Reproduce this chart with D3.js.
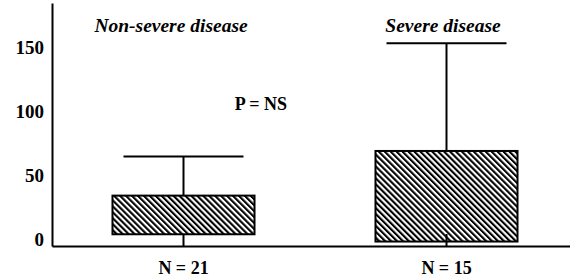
<!DOCTYPE html>
<html>
<head>
<meta charset="utf-8">
<script src="https://cdn.jsdelivr.net/npm/d3@7"></script>
<style>
  body { margin: 0; background: #fff; }
</style>
</head>
<body>
<script>
//box plot, two groups

var w = 570;
var h = 278;
var serif = "'Liberation Serif', 'Times New Roman', serif";

// data
var categories = ["Non-severe disease", "Severe disease"];
var nLabels = ["N = 21", "N = 15"];
var boxLow = [3.7, -2];
var boxHigh = [34, 69];
var whiskerHigh = [64.6, 153.4];
var yTicks = [0, 50, 100, 150];
var pText = "P = NS";

var svg = d3.select("body")
    .append("svg")
    .attr("width", w)
    .attr("height", h);

// hatch fill
svg.append("defs")
    .append("pattern")
    .attr("id", "hatch")
    .attr("patternUnits", "userSpaceOnUse")
    .attr("width", 4.2)
    .attr("height", 4.2)
    .attr("patternTransform", "rotate(-45)")
    .append("rect")
    .attr("width", 2.1)
    .attr("height", 4.2)
    .attr("fill", "#000");

var x = d3.scaleBand()
    .domain(categories)
    .range([52, 578])
    .paddingInner(0.46)
    .paddingOuter(0.23);

var y = d3.scaleLinear()
    .domain([-5.5, 185])
    .range([246, 3]);

var cx = function(d, i) { return x(categories[i]) + x.bandwidth() / 2; };
var capW = x.bandwidth() * 0.845;

// upper whiskers
svg.selectAll(".whisker")
    .data(categories)
    .enter()
    .append("line")
    .attr("class", "whisker")
    .attr("x1", cx)
    .attr("x2", cx)
    .attr("y1", function(d, i) { return y(boxHigh[i]); })
    .attr("y2", function(d, i) { return y(whiskerHigh[i]); })
    .attr("stroke", "#000")
    .attr("stroke-width", 2);

svg.selectAll(".cap")
    .data(categories)
    .enter()
    .append("line")
    .attr("class", "cap")
    .attr("x1", function(d, i) { return cx(d, i) - capW / 2; })
    .attr("x2", function(d, i) { return cx(d, i) + capW / 2; })
    .attr("y1", function(d, i) { return y(whiskerHigh[i]); })
    .attr("y2", function(d, i) { return y(whiskerHigh[i]); })
    .attr("stroke", "#000")
    .attr("stroke-width", 2);

// boxes
svg.selectAll(".box")
    .data(categories)
    .enter()
    .append("rect")
    .attr("class", "box")
    .attr("x", function(d) { return x(d); })
    .attr("width", x.bandwidth())
    .attr("y", function(d, i) { return y(boxHigh[i]); })
    .attr("height", function(d, i) { return y(boxLow[i]) - y(boxHigh[i]); })
    .attr("fill", "url(#hatch)")
    .attr("stroke", "#000")
    .attr("stroke-width", 2);

// axes
var yAxis = svg.append("g")
    .attr("transform", "translate(52,0)")
    .call(d3.axisLeft(y).tickValues(yTicks).tickSize(0).tickSizeOuter(0).tickPadding(8));

yAxis.attr("font-family", serif).attr("font-size", 19).attr("font-weight", "bold");
yAxis.select(".domain").attr("stroke-width", 2);

var xAxis = svg.append("g")
    .attr("transform", "translate(0,246)")
    .call(d3.axisBottom(x)
        .tickSize(-12)
        .tickSizeOuter(0)
        .tickPadding(15)
        .tickFormat(function(d, i) { return nLabels[i]; }));

xAxis.attr("font-family", serif).attr("font-size", 18).attr("font-weight", "bold");
xAxis.selectAll("line").attr("stroke-width", 2);
xAxis.select(".domain").attr("stroke-width", 2);

// group titles
var titleX = [171, 443];
svg.selectAll(".title")
    .data(categories)
    .enter()
    .append("text")
    .attr("class", "title")
    .attr("x", function(d, i) { return titleX[i]; })
    .attr("y", 32)
    .attr("text-anchor", "middle")
    .attr("font-family", serif)
    .attr("font-size", 19.5)
    .attr("font-weight", "bold")
    .attr("font-style", "italic")
    .text(function(d) { return d; });

svg.append("text")
    .attr("x", 261)
    .attr("y", 110)
    .attr("text-anchor", "middle")
    .attr("font-family", serif)
    .attr("font-size", 18)
    .attr("font-weight", "bold")
    .text(pText);
</script>
</body>
</html>
